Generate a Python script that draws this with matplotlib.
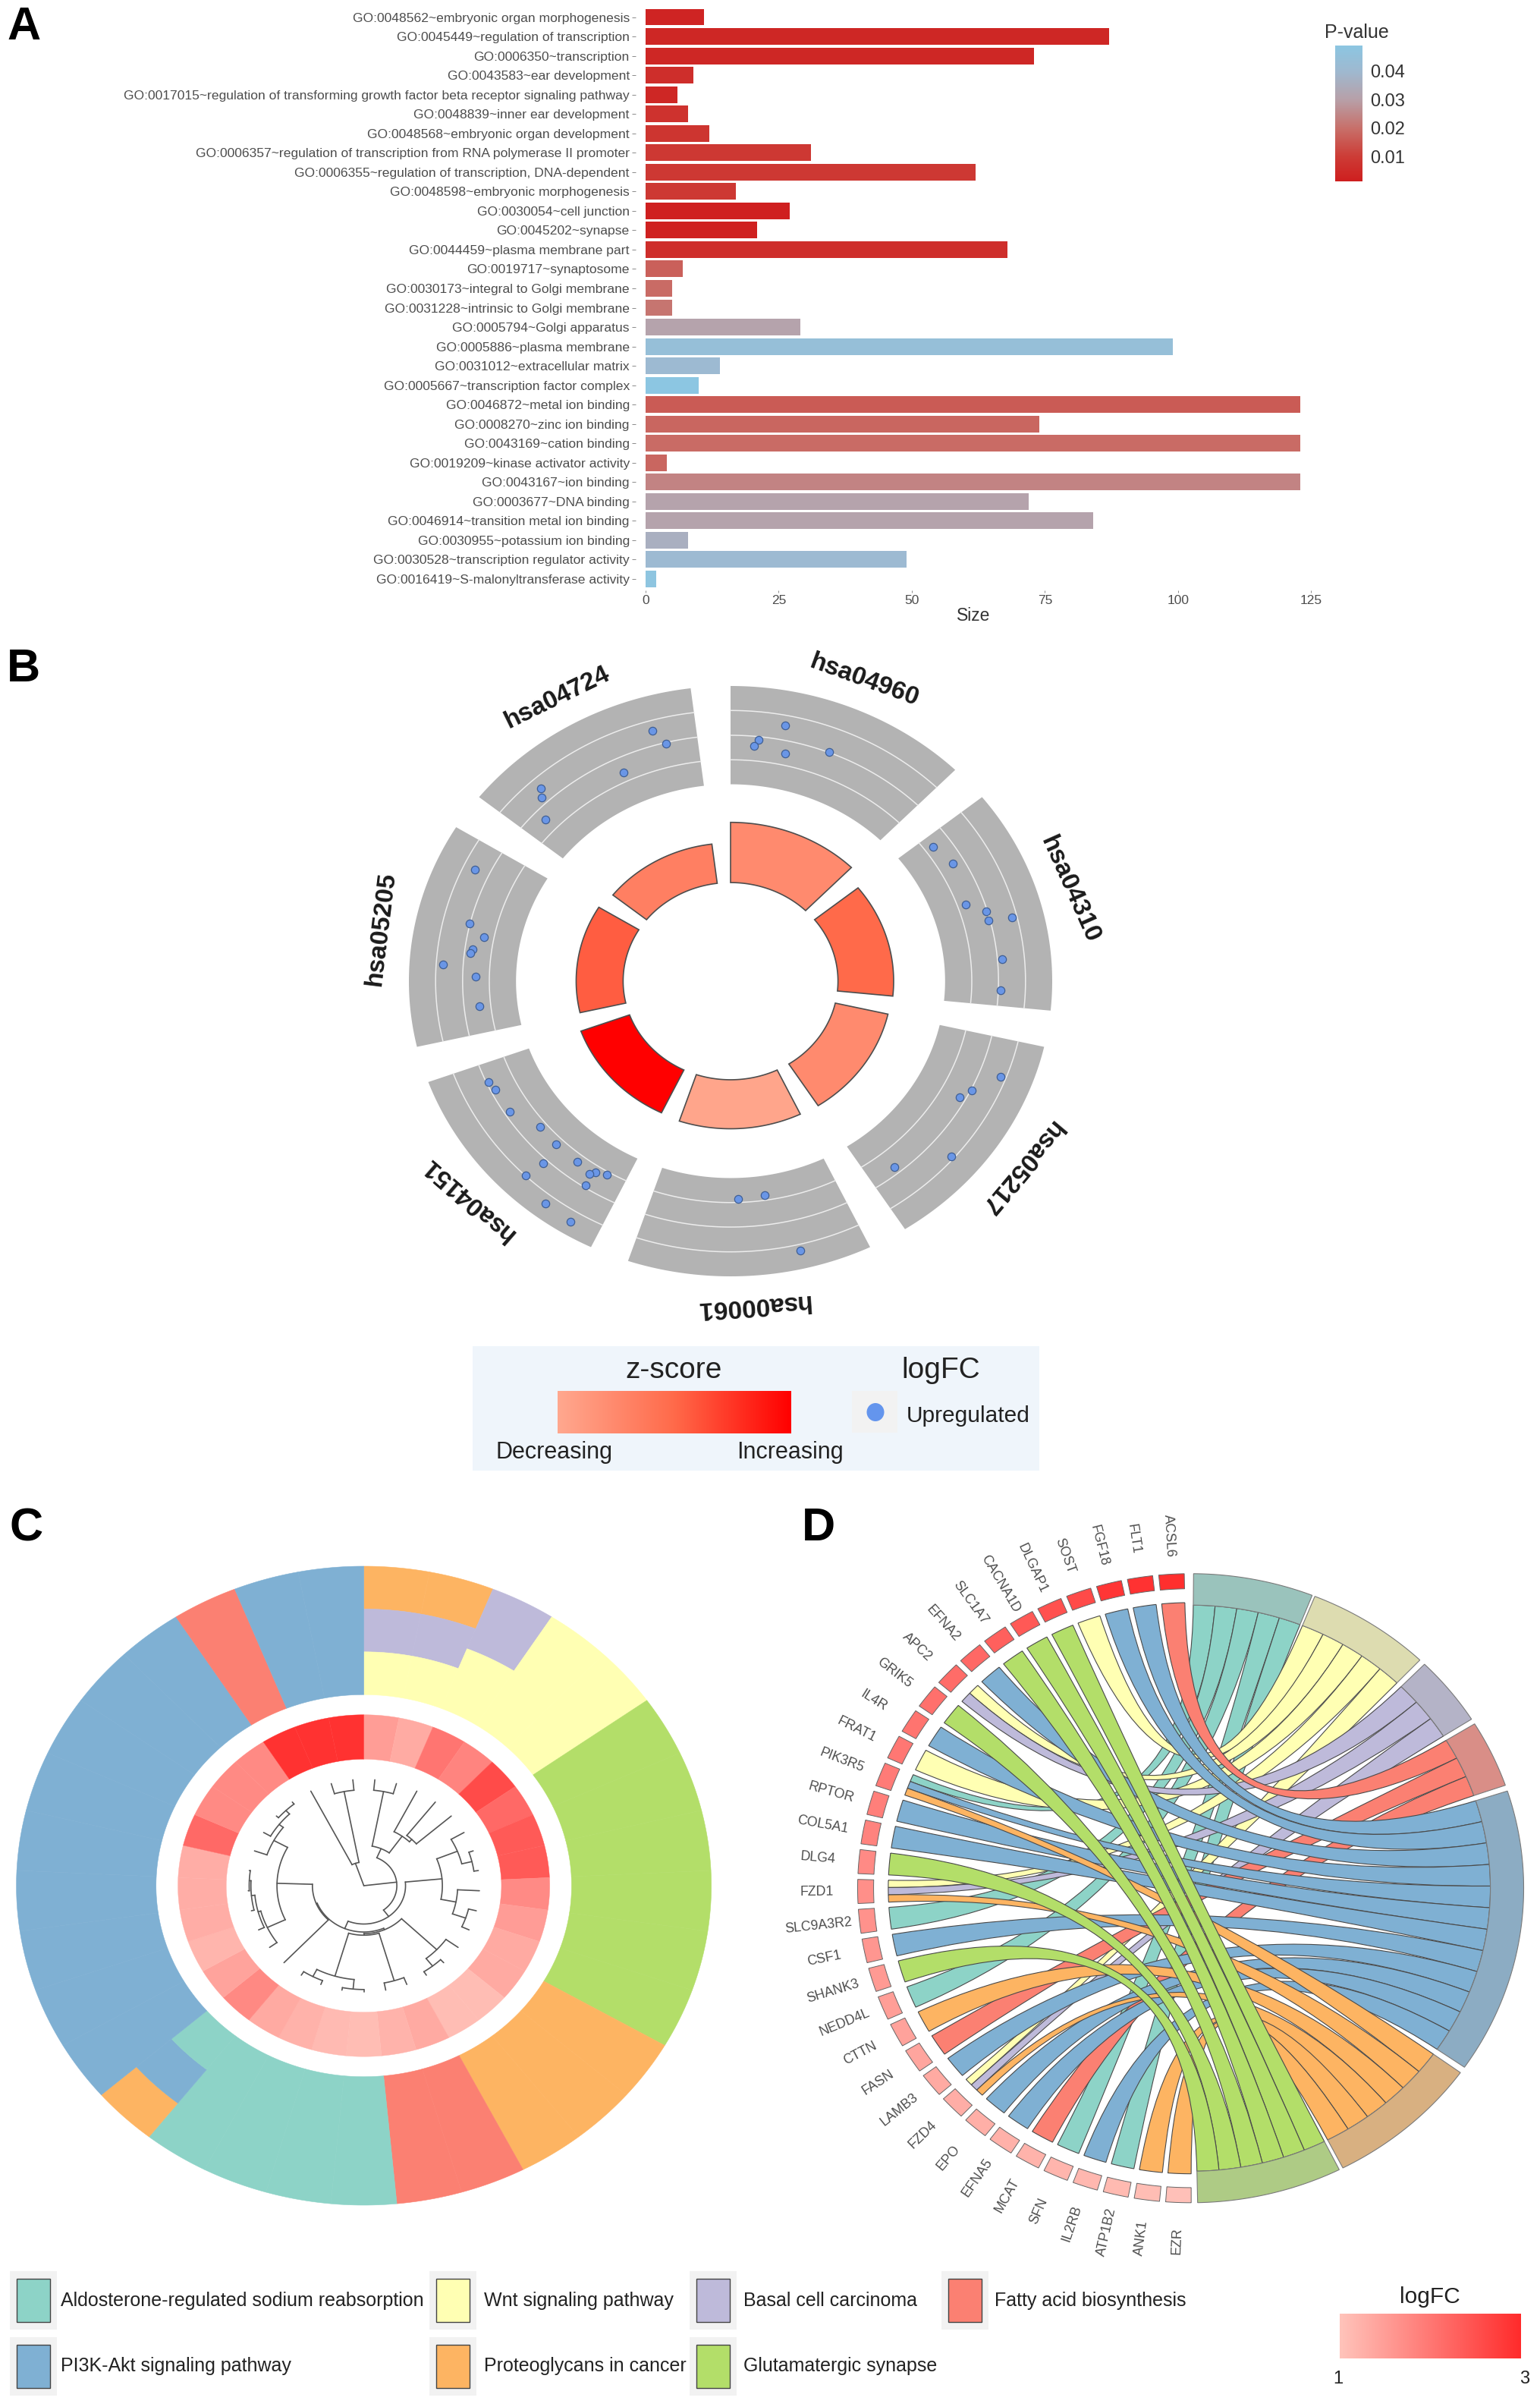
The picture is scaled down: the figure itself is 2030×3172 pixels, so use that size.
import matplotlib
matplotlib.use("Agg")
import matplotlib.pyplot as plt
import numpy as np
from matplotlib.colors import LinearSegmentedColormap, Normalize
from matplotlib.patches import Ellipse, PathPatch, Polygon, Rectangle
from matplotlib.path import Path

plt.rcParams['font.family'] = ['Liberation Sans', 'DejaVu Sans']

W, H = 2031, 3172

# panel A
go_terms = [
    "GO:0048562~embryonic organ morphogenesis", "GO:0045449~regulation of transcription",
    "GO:0006350~transcription", "GO:0043583~ear development",
    "GO:0017015~regulation of transforming growth factor beta receptor signaling pathway",
    "GO:0048839~inner ear development", "GO:0048568~embryonic organ development",
    "GO:0006357~regulation of transcription from RNA polymerase II promoter",
    "GO:0006355~regulation of transcription, DNA-dependent", "GO:0048598~embryonic morphogenesis",
    "GO:0030054~cell junction", "GO:0045202~synapse", "GO:0044459~plasma membrane part",
    "GO:0019717~synaptosome", "GO:0030173~integral to Golgi membrane",
    "GO:0031228~intrinsic to Golgi membrane", "GO:0005794~Golgi apparatus",
    "GO:0005886~plasma membrane", "GO:0031012~extracellular matrix",
    "GO:0005667~transcription factor complex", "GO:0046872~metal ion binding",
    "GO:0008270~zinc ion binding", "GO:0043169~cation binding", "GO:0019209~kinase activator activity",
    "GO:0043167~ion binding", "GO:0003677~DNA binding", "GO:0046914~transition metal ion binding",
    "GO:0030955~potassium ion binding", "GO:0030528~transcription regulator activity",
    "GO:0016419~S-malonyltransferase activity",
]
go_sizes = [11, 87, 73, 9, 6, 8, 12, 31, 62, 17, 27, 21, 68, 7, 5, 5, 29, 99, 14, 10,
            123, 74, 123, 4, 123, 72, 84, 8, 49, 2]
go_pvalues = [0.003, 0.004, 0.004, 0.006, 0.004, 0.007, 0.008, 0.009, 0.009, 0.009,
              0.0015, 0.002, 0.006, 0.017, 0.019, 0.021, 0.031, 0.044, 0.041, 0.049,
              0.016, 0.018, 0.019, 0.018, 0.024, 0.031, 0.031, 0.036, 0.041, 0.048]
size_ticks = [0, 25, 50, 75, 100, 125]
pvalue_ticks = [0.01, 0.02, 0.03, 0.04]

# panel B
kegg_ids = ["hsa04960", "hsa04310", "hsa05217", "hsa00061", "hsa04151", "hsa05205", "hsa04724"]
kegg_label_rotation = [-20, -66, -130, -176, -221, -277, -334]
kegg_heights = [0.538, 0.507, 0.502, 0.500, 0.495, 0.480, 0.468]
kegg_zscores = [0.24, 0.50, 0.24, 0.03, 1.00, 0.56, 0.33]
gene_x = [0.169, 0.087, 0.073, 0.169, 0.306,
          0.630, 0.690, 0.731, 0.795, 0.801, 0.874, 0.844, 0.840,
          0.839, 0.750, 0.712, 0.686, 0.509,
          0.024, 0.107, 0.218,
          -0.752, -0.731, -0.687, -0.592, -0.542, -0.583, -0.476, -0.420, -0.439, -0.385,
          -0.637, -0.450, -0.575, -0.498,
          -0.795, -0.812, -0.766, -0.803, -0.810, -0.893, -0.793, -0.780,
          -0.242, -0.201, -0.333, -0.589, -0.588, -0.575]
gene_y = [0.867, 0.817, 0.796, 0.770, 0.776,
          0.456, 0.398, 0.259, 0.237, 0.206, 0.215, 0.074, -0.031,
          -0.324, -0.369, -0.393, -0.593, -0.631,
          -0.739, -0.724, -0.913,
          -0.343, -0.367, -0.441, -0.493, -0.552, -0.617, -0.611, -0.648, -0.652, -0.656,
          -0.657, -0.691, -0.754, -0.815,
          0.378, 0.196, 0.148, 0.107, 0.096, 0.057, 0.015, -0.085,
          0.848, 0.804, 0.707, 0.654, 0.622, 0.548]

# pathways, shared by panels C and D
pathway_names = ["Aldosterone-regulated sodium reabsorption", "Wnt signaling pathway", "Basal cell carcinoma",
                 "Fatty acid biosynthesis", "PI3K-Akt signaling pathway", "Proteoglycans in cancer",
                 "Glutamatergic synapse"]
pathway_colors = ['#8dd3c7', '#ffffb3', '#bebada', '#fb8072', '#7fb0d3', '#fdb462', '#b3de69']
T, Y, L, R, B, O, G = range(7)

# panel C, one entry per gene clockwise from the top, outermost pathway first
cluster_pathways = [[O, L, Y], [O, L, Y], [L, Y], [Y], [Y],
                    [G], [G], [G], [G], [G], [G],
                    [O], [O], [O], [R], [R], [T], [T], [T], [T],
                    [O, B, T],
                    [B], [B], [B], [B], [B], [B], [B], [B], [B],
                    [R], [B], [B]]
cluster_logfc = [1.51, 1.33, 2.03, 1.84, 2.58, 2.18, 2.39, 2.39, 1.75, 1.52, 1.35,
                 1.35, 1.10, 1.10, 1.35, 1.22, 1.10, 1.13, 1.24, 1.35, 1.78,
                 1.43, 1.20, 1.30, 1.30, 1.30, 2.18, 1.76, 1.76, 1.76, 2.91, 2.91, 2.91]

# dendrogram as (merge radius, children), plain ints are the genes above
tree_g = (0.226, [(0.29, [5, (0.32, [6, 7])]), (0.27, [8, (0.31, [9, 10])])])
tree_j = (0.15, [(0.29, [11, (0.32, [12, 13])]),
                 (0.155, [(0.31, [14, 15]), (0.295, [(0.325, [16, 17]), (0.32, [18, 19])])])])
tree_x = (0.25, [(0.307, [21, (0.315, [22, (0.325, [23, (0.33, [24, 25])])])]),
                 (0.295, [26, (0.31, [27, (0.325, [28, 29])])])])
tree_right = (0.095, [(0.126, [(0.30, [0, 1]), (0.19, [2, (0.20, [3, 4])])]),
                      (0.12, [tree_g, (0.145, [tree_j, (0.148, [20, tree_x])])])])
tree_left = (0.074, [30, (0.30, [31, 32])])
cluster_tree = (0.0, [tree_left, tree_right])

# panel D
chord_genes = ["ACSL6", "FLT1", "FGF18", "SOST", "DLGAP1", "CACNA1D", "SLC1A7", "EFNA2", "APC2", "GRIK5",
               "IL4R", "FRAT1", "PIK3R5", "RPTOR", "COL5A1", "DLG4", "FZD1", "SLC9A3R2", "CSF1", "SHANK3",
               "NEDD4L", "CTTN", "FASN", "LAMB3", "FZD4", "EPO", "EFNA5", "MCAT", "SFN", "IL2RB",
               "ATP1B2", "ANK1", "EZR"]
chord_logfc = [2.95, 2.9, 2.85, 2.6, 2.5, 2.4, 2.3, 2.2, 2.15, 2.1, 2.05, 2.0, 1.95, 1.9, 1.85, 1.75, 1.7,
               1.65, 1.6, 1.55, 1.5, 1.45, 1.4, 1.35, 1.3, 1.28, 1.25, 1.22, 1.2, 1.17, 1.14, 1.1, 1.05]
chord_links = [[R], [B], [B], [Y], [G], [G], [G], [B], [Y, L], [G], [B], [Y], [T, B, O], [B], [B], [G],
               [Y, L, O], [T], [B], [G], [T], [O], [R], [B], [Y, L, O], [B], [B], [R], [T], [B], [T], [O], [O]]
sector_start = [0.5, 21.9, 44.6, 58.5, 72.0, 125.9, 153.5]
sector_end = [21.4, 43.5, 57.5, 70.9, 124.7, 152.8, 178.8]
sector_colors = ['#9ac3bc', '#dddcb0', '#b4b3c7', '#d98e87', '#8cacc3', '#d8b081', '#aecb85']

pvalue_stops = [(0.0014, '#cf1f1f'), (0.01, '#cd3c36'), (0.02, '#c8706a'),
                (0.03, '#b8a0a8'), (0.04, '#9fb9d0'), (0.049, '#8cc6e2')]
pvalue_norm = Normalize(0.0014, 0.049)
pvalue_cmap = LinearSegmentedColormap.from_list(
    'pvalue', [(float(pvalue_norm(v)), c) for v, c in pvalue_stops])
zscore_cmap = LinearSegmentedColormap.from_list('zscore', ['#ffa88f', '#ff6a4a', '#ff0000'])
logfc_cmap = LinearSegmentedColormap.from_list('logfc', ['#ffc4bb', '#ff2b2b'])
logfc_norm = Normalize(1, 3)


def px_axes(x0, y0, x1, y1):
    return fig.add_axes([x0 / W, 1 - y1 / H, (x1 - x0) / W, (y1 - y0) / H])


def unit_axes(cx, cy, rx, ry, pad=1.2):
    # axes where the circle of the panel has radius 1
    ax = px_axes(cx - pad * rx, cy - pad * ry, cx + pad * rx, cy + pad * ry)
    ax.set_xlim(-pad, pad)
    ax.set_ylim(-pad, pad)
    ax.axis('off')
    return ax


def polar(angle, r):
    # angle in degrees, clockwise from the top
    t = np.radians(angle)
    return r * np.sin(t), r * np.cos(t)


def sector(ax, a0, a1, r0, r1, **kw):
    t = np.linspace(a0, a1, 60)
    xo, yo = polar(t, r1)
    xi, yi = polar(t[::-1], r0)
    pts = np.column_stack([np.r_[xo, xi], np.r_[yo, yi]])
    ax.add_patch(Polygon(pts, closed=True, **kw))


fig = plt.figure(figsize=(W / 100, H / 100), dpi=100)

# --- A: bar chart ---
px_per_unit = 175.5 / 25
bar_step = 25.53
ax = px_axes(838, 22.5 - 0.6 * bar_step, 851 + 130 * px_per_unit, 763 + 0.6 * bar_step)
ypos = np.arange(len(go_terms))
ax.barh(ypos, go_sizes, height=0.86, color=pvalue_cmap(pvalue_norm(go_pvalues)))
ax.set_xlim(-13 / px_per_unit, 130)
ax.set_ylim(len(go_terms) - 0.4, -0.6)
ax.set_yticks(ypos)
ax.set_yticklabels(go_terms, fontsize=12.6, color='#4d4d4d')
ax.set_xticks(size_ticks)
ax.tick_params(axis='y', length=3.4, width=0.6, color='#777777', pad=2.5)
ax.tick_params(axis='x', length=2.5, width=0.6, color='#777777', pad=1.5, labelsize=12.5, labelcolor='#4d4d4d')
for s in ax.spines.values():
    s.set_visible(False)

ax = px_axes(1760, 60, 1795, 239)
grad = np.linspace(0.0489, 0.0014, 256).reshape(-1, 1)
ax.imshow(grad, cmap=pvalue_cmap, norm=pvalue_norm, aspect='auto', extent=[0, 1, 0.0014, 0.0489])
ax.set_xticks([])
ax.yaxis.tick_right()
ax.set_yticks(pvalue_ticks)
ax.set_yticklabels(["%.2f" % v for v in pvalue_ticks], fontsize=17, color='#333333')
ax.tick_params(axis='y', length=0, pad=8)
for s in ax.spines.values():
    s.set_visible(False)

# --- B: GO circle ---
ax = unit_axes(963, 1293, 424, 389)
step = 360 / len(kegg_ids)
span = 44.3
for i, name in enumerate(kegg_ids):
    a0 = i * step
    sector(ax, a0, a0 + span, 0.667, 1.0, facecolor='#b3b3b3', edgecolor='none')
    for r in [0.75, 0.833, 0.917]:
        t = np.linspace(a0, a0 + span, 60)
        ax.plot(*polar(t, r), color='#ececec', lw=1.1)
    sector(ax, a0, a0 + span, 0.334, kegg_heights[i], facecolor=zscore_cmap(kegg_zscores[i]),
           edgecolor='#4d4d4d', linewidth=1.2)
    lx, ly = polar(a0 + span / 2, 1.1)
    ax.text(lx, ly, name, fontsize=24, fontweight='bold', color='#1a1a1a', rotation=kegg_label_rotation[i],
            rotation_mode='anchor', ha='center', va='center')
ax.scatter(gene_x, gene_y, s=55, color='#6a96e6', edgecolor='#3f5f95', linewidth=0.9, zorder=3)

# --- C: circular dendrogram with heat ring and pathways ---
ax = unit_axes(479.6, 2485, 458, 421, pad=1.03)
n_genes = len(cluster_pathways)
width = 360 / n_genes
for i, paths in enumerate(cluster_pathways):
    a0, a1 = i * width, (i + 1) * width
    band = (1.0 - 0.598) / len(paths)
    for k, p in enumerate(paths):
        c = pathway_colors[p]
        sector(ax, a0, a1, 1.0 - (k + 1) * band, 1.0 - k * band, facecolor=c, edgecolor=c, linewidth=0.4)
    c = logfc_cmap(logfc_norm(cluster_logfc[i]))
    sector(ax, a0, a1, 0.396, 0.535, facecolor=c, edgecolor=c, linewidth=0.3)


def draw_tree(node):
    # returns the angle and radius of a node and draws everything under it
    if isinstance(node, int):
        return (node + 0.5) * width, 0.333
    r, children = node
    placed = [draw_tree(ch) for ch in children]
    angles = [p[0] for p in placed]
    for a, child_r in placed:
        ax.plot(*zip(polar(a, r), polar(a, child_r)), color='#555555', lw=1.2, solid_capstyle='round')
    if r > 0:
        t = np.linspace(min(angles), max(angles), 40)
        ax.plot(*polar(t, r), color='#555555', lw=1.2)
    return sum(angles) / len(angles), r


draw_tree(cluster_tree)

# --- D: chord diagram ---
ax = unit_axes(1569.5, 2488.3, 439, 414.5, pad=1.25)
gene_step = 5.456
gene_first = 3.3
gene_span = 4.4

link_rows = []
for i, paths in enumerate(chord_links):
    centre = gene_first + i * gene_step
    for k, p in enumerate(paths):
        a0 = -(centre - gene_span / 2 + gene_span * k / len(paths))
        a1 = -(centre - gene_span / 2 + gene_span * (k + 1) / len(paths))
        link_rows.append((p, i, a0, a1))

for p in range(len(pathway_names)):
    rows = sorted([row for row in link_rows if row[0] == p], key=lambda row: row[1])
    edges = np.linspace(sector_start[p], sector_end[p], len(rows) + 1)
    for j, (_, _, a0, a1) in enumerate(rows):
        b0, b1 = edges[j], edges[j + 1]
        arc_a = np.column_stack(polar(np.linspace(a0, a1, 8), 0.908))
        arc_b = np.column_stack(polar(np.linspace(b1, b0, 8), 0.90))
        verts = [arc_a[0]] + list(arc_a[1:]) + [(0, 0), arc_b[0]] + list(arc_b[1:]) + [(0, 0), arc_a[0]]
        codes = [Path.MOVETO] + [Path.LINETO] * 7 + [Path.CURVE3, Path.CURVE3] + [Path.LINETO] * 7 + \
            [Path.CURVE3, Path.CURVE3]
        ax.add_patch(PathPatch(Path(verts, codes), facecolor=pathway_colors[p], edgecolor='#4a4a4a',
                               linewidth=0.8))
    sector(ax, sector_start[p], sector_end[p], 0.90, 1.0, facecolor=sector_colors[p],
           edgecolor='#7a7a7a', linewidth=0.8)

for i, name in enumerate(chord_genes):
    centre = gene_first + i * gene_step
    sector(ax, -centre - 2.2, -centre + 2.2, 0.952, 1.0, facecolor=logfc_cmap(logfc_norm(chord_logfc[i])),
           edgecolor='#666666', linewidth=0.7)
    lx, ly = polar(-centre, 1.123)
    ax.text(lx, ly, name, fontsize=12.8, color='#4d4d4d', rotation=-90 + centre, rotation_mode='anchor',
            ha='center', va='center')

# --- overlay in figure pixels: panel letters and legends ---
ov = fig.add_axes([0, 0, 1, 1])
ov.set_xlim(0, W)
ov.set_ylim(H, 0)
ov.axis('off')

for letter, lx, ly in [("A", 32, 37), ("B", 31, 882), ("C", 35, 2015), ("D", 1079, 2015)]:
    ov.text(lx, ly, letter, fontsize=44, fontweight='bold', color='black', ha='center', va='center')

ov.text(1283, 811, "Size", fontsize=16.5, color='#333333', ha='center', va='center')
ov.text(1746, 43, "P-value", fontsize=18, color='#333333', ha='left', va='center')

# B legend
ov.add_patch(Rectangle((623, 1774), 747, 164, facecolor='#eff5fb', edgecolor='none', zorder=0))
ov.text(888, 1806, "z-score", fontsize=28, color='#222222', ha='center', va='center')
ov.text(1240, 1806, "logFC", fontsize=28, color='#222222', ha='center', va='center')
ramp = np.linspace(0, 1, 256).reshape(1, -1)
ov.imshow(ramp, cmap=zscore_cmap, aspect='auto', extent=[735, 1043, 1889, 1833], zorder=2)
ov.text(731, 1914, "Decreasing", fontsize=22, color='#222222', ha='center', va='center')
ov.text(1041, 1914, "Increasing", fontsize=22, color='#222222', ha='center', va='center')
ov.add_patch(Rectangle((1123, 1833), 60, 55, facecolor='#f2f2f2', edgecolor='none'))
ov.add_patch(Ellipse((1154, 1861), 23, 24, facecolor='#6495ed', edgecolor='none'))
ov.text(1195, 1866, "Upregulated", fontsize=21.5, color='#222222', ha='left', va='center')

# pathway legend
key_cols = [13, 566, 909, 1241]
text_cols = [80, 638, 980, 1311]
key_rows = [(2993, 3032), (3080, 3118)]
legend_order = [T, Y, L, R, B, O, G]
legend_cells = [(0, 0), (0, 1), (0, 2), (0, 3), (1, 0), (1, 1), (1, 2)]
for p, (row, col) in zip(legend_order, legend_cells):
    top, mid = key_rows[row]
    ov.add_patch(Rectangle((key_cols[col], top), 62, 77, facecolor='#f2f2f2', edgecolor='none'))
    ov.add_patch(Rectangle((key_cols[col] + 9, top + 10), 44, 57, facecolor=pathway_colors[p],
                           edgecolor='#444444', linewidth=1))
    ov.text(text_cols[col], mid, pathway_names[p], fontsize=18, color='#222222', ha='left', va='center')

# logFC legend
ov.text(1885, 3027, "logFC", fontsize=21.5, color='#222222', ha='center', va='center')
ov.imshow(ramp, cmap=logfc_cmap, aspect='auto', extent=[1766, 2005, 3108, 3049], zorder=2)
ov.text(1764, 3135, "1", fontsize=17, color='#222222', ha='center', va='center')
ov.text(2010, 3135, "3", fontsize=17, color='#222222', ha='center', va='center')
ov.set_xlim(0, W)
ov.set_ylim(H, 0)

fig.savefig("out.png", dpi=100, facecolor='white')
